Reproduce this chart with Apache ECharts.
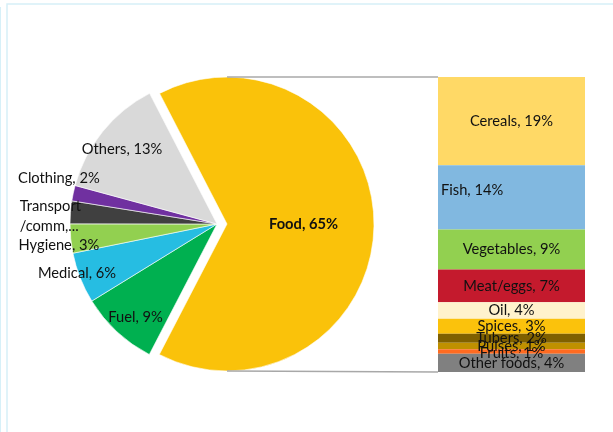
<!DOCTYPE html>
<html>
<head>
<meta charset="utf-8">
<script src="https://cdn.jsdelivr.net/npm/echarts@6/dist/echarts.min.js"></script>
<style>
html,body{margin:0;padding:0;background:#fff;}
#chart{width:613px;height:432px;}
</style>
</head>
<body>
<div id="chart"></div>
<script>
// ---- Data ----
var pieNames  = ['Food', 'Fuel', 'Medical', 'Hygiene', 'Transport\n/comm,...', 'Clothing', 'Others'];
var pieValues = [65.2, 8.6, 5.6, 3.2, 2.5, 1.7, 13.2];
var pieColors = ['#fac20a', '#00b050', '#26bde2', '#92d050', '#404040', '#7030a0', '#d9d9d9'];

var foodNames  = ['Cereals', 'Fish', 'Vegetables', 'Meat/eggs', 'Oil', 'Spices', 'Tubers', 'Pulses', 'Fruits', 'Other foods'];
var foodValues = [19.4, 14.1, 8.8, 7.2, 3.6, 3.3, 2.0, 1.4, 1.0, 4.0];
var foodColors = ['#ffd966', '#81b8e0', '#92d050', '#c41a2d', '#fff2cc', '#fbc20c', '#7f6000', '#bf9000', '#ff6b21', '#808080'];

// ---- Layout / style ----
var FONT = 'Lato';
var FS = 14.7;
var cx = 217, cy = 224, R = 147, explode = 10, startAngle = 117.3;
var barLeft = 438, barTop = 77, barW = 147, barH = 295;
// label placement for pie slices: radius ratio and small angular tweak
var labelDist  = [null, 0.84, 1.01, 1.085, 1.135, 1.12, 0.823];
var labelShift = [0, 1.6, -2.1, 1.9, 1.9, -4.1, 0.6];
// vertical nudges for bar labels
var barLabelDy = [0, -7, 0, 0, 0, 0, 0, 0, 1.5, 0];

var total = pieValues.reduce(function(a,b){return a+b;}, 0);
var midAngles = [];
(function(){
  var a = startAngle;
  for (var i = 0; i < pieValues.length; i++) {
    var span = pieValues[i] / total * 360;
    midAngles.push(a - span / 2);
    a -= span;
  }
})();

function pct(v){ return Math.round(v) + '%'; }

var chart = echarts.init(document.getElementById('chart'), null, {renderer:'canvas'});

var pieData = pieNames.map(function(n, i){
  var d = {name: n, value: pieValues[i], itemStyle: {color: pieColors[i]}};
  if (i === 0) {
    d.selected = true;
    d.label = {fontWeight: 'bold'};
  }
  return d;
});

var barSeries = foodNames.map(function(n, i){
  return {
    type: 'bar',
    name: n,
    stack: 'food',
    barWidth: '100%',
    xAxisIndex: 0,
    yAxisIndex: 0,
    data: [foodValues[i]],
    itemStyle: {color: foodColors[i]},
    label: {
      show: true,
      position: i === 1 ? 'insideLeft' : 'inside',
      distance: 3,
      offset: [0, barLabelDy[i]],
      formatter: function(){ return n + ', ' + pct(foodValues[i]); },
      fontFamily: FONT,
      fontSize: FS,
      color: '#111'
    },
    emphasis: {disabled: true},
    animation: false
  };
});

var frameColor = '#d6f0f8';

var option = {
  animation: false,
  backgroundColor: '#ffffff',
  grid: {left: barLeft, top: barTop, width: barW, height: barH},
  xAxis: {type: 'category', data: ['Food'], show: false},
  yAxis: {type: 'value', min: 0, max: foodValues.reduce(function(a,b){return a+b;},0), inverse: true, show: false},
  graphic: [
    {type: 'rect', shape: {x: 7, y: 4, width: 620, height: 440}, style: {fill: 'none', stroke: frameColor, lineWidth: 1.5}, z: 0, silent: true},
    {type: 'line', shape: {x1: 0.5, y1: 7, x2: 0.5, y2: 432}, style: {stroke: frameColor, lineWidth: 1}, silent: true},
    {type: 'line', shape: {x1: cx + explode, y1: cy - R, x2: barLeft, y2: barTop}, style: {stroke: '#a8a8a8', lineWidth: 1.5}, silent: true, z: 100},
    {type: 'line', shape: {x1: cx + explode, y1: cy + R, x2: barLeft, y2: barTop + barH}, style: {stroke: '#a8a8a8', lineWidth: 1.5}, silent: true, z: 100}
  ],
  series: [{
    type: 'pie',
    center: [cx, cy],
    radius: [0, R],
    startAngle: startAngle,
    clockwise: true,
    selectedMode: 'single',
    selectedOffset: explode,
    avoidLabelOverlap: false,
    data: pieData,
    itemStyle: {borderColor: '#ffffff', borderWidth: 0.6},
    label: {
      show: true,
      position: 'inside',
      fontFamily: FONT,
      fontSize: FS,
      color: '#111',
      lineHeight: 20,
      formatter: function(p){
        if (p.dataIndex === 4) return p.name;
        return p.name + ', ' + pct(p.value);
      }
    },
    labelLine: {show: false},
    labelLayout: function(p){
      var i = p.dataIndex;
      if (i === 0) return {};
      var a = (midAngles[i] + labelShift[i]) * Math.PI / 180;
      var d = labelDist[i] * R;
      var x = cx + d * Math.cos(a);
      var y = cy - d * Math.sin(a);
      if (i === 4) {
        return {x: x - p.labelRect.width / 2, y: y, align: 'left', verticalAlign: 'middle'};
      }
      return {x: x, y: y, align: 'center', verticalAlign: 'middle'};
    },
    emphasis: {disabled: true},
    animation: false
  }].concat(barSeries)
};

chart.setOption(option);
</script>
</body>
</html>
